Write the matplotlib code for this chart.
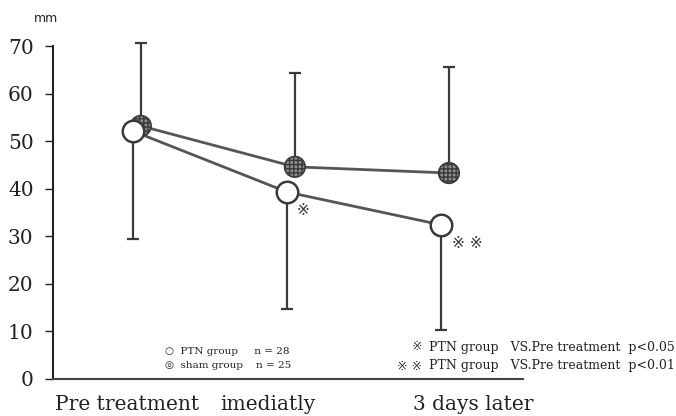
import matplotlib
matplotlib.use("Agg")
import matplotlib.pyplot as plt

# values (mm)
stages = ["Pre treatment", "imediatly", "3 days later"]
ptn_mean = [52.1, 39.3, 32.4]
ptn_sd_low = [22.7, 24.6, 22.1]
sham_mean = [53.2, 44.6, 43.3]
sham_sd_up = [17.4, 19.7, 22.3]
yticks = [0, 10, 20, 30, 40, 50, 60, 70]

serif = ["DejaVu Serif", "DejaVu Sans"]
ink = "#3a3a3a"

fig = plt.figure(figsize=(6.76, 4.16), dpi=100)
ax = fig.add_axes([53 / 676, 1 - 379 / 416, 470 / 676, 333 / 416])

x = list(range(len(stages)))
x_ptn = [v - 0.025 for v in x]
x_sham = [v + 0.025 for v in x]

# sham: error bar upward only, PTN: downward only
ax.errorbar(x_sham, sham_mean, yerr=[[0] * 3, sham_sd_up], fmt="none",
            ecolor=ink, elinewidth=1.6, capsize=4, capthick=1.6, clip_on=False, zorder=1)
ax.errorbar(x_ptn, ptn_mean, yerr=[ptn_sd_low, [0] * 3], fmt="none",
            ecolor=ink, elinewidth=1.6, capsize=4, capthick=1.6, clip_on=False, zorder=1)

ax.plot(x_sham, sham_mean, color="#555555", lw=2, zorder=2)
ax.plot(x_ptn, ptn_mean, color="#555555", lw=2, zorder=2)
ax.scatter(x_sham, sham_mean, s=220, facecolor="#8c8c8c", edgecolor=ink,
           hatch="++++", linewidth=1.2, zorder=3, clip_on=False)
ax.scatter(x_ptn, ptn_mean, s=240, facecolor="white", edgecolor=ink,
           linewidth=1.8, zorder=4, clip_on=False)

# significance marks
ax.text(x_ptn[1] + 0.06, ptn_mean[1] - 4, "※", fontsize=11, color=ink,
        ha="left", va="center", family=serif)
ax.text(x_ptn[2] + 0.07, ptn_mean[2] - 4, "※ ※", fontsize=11, color=ink,
        ha="left", va="center", family=serif)

ax.set_xlim(-0.545, 2.506)
ax.set_ylim(0, 70)
ax.set_yticks(yticks)
ax.set_xticks([])
ax.tick_params(axis="y", direction="out", length=6, width=1, pad=8, labelsize=14.5, colors="#222222")
for lab in ax.get_yticklabels():
    lab.set_family(serif)
for s in ["top", "right"]:
    ax.spines[s].set_visible(False)
ax.spines["left"].set_linewidth(1.5)
ax.spines["bottom"].set_linewidth(1.5)
ax.spines["left"].set_color("#222222")
ax.spines["bottom"].set_color("#444444")

fig.text(46 / 676, 1 - 19 / 416, "mm", fontsize=9, ha="center", va="center", color="#222222")

# category labels under the axis
label_x = [127, 268, 473]
for lx, name in zip(label_x, stages):
    fig.text(lx / 676, 1 - 404 / 416, name, fontsize=14.5, ha="center", va="center",
             family=serif, color="#222222")

# group key, lower left
fig.text(165 / 676, 1 - 352 / 416, "○  PTN group     n = 28", fontsize=7.5,
         ha="left", va="center", family=serif, color="#222222")
fig.text(165 / 676, 1 - 366 / 416, "◎  sham group    n = 25", fontsize=7.5,
         ha="left", va="center", family=serif, color="#222222")

# significance key, lower right
fig.text(422 / 676, 1 - 347 / 416, "※", fontsize=9, ha="right", va="center",
         family=serif, color="#222222")
fig.text(422 / 676, 1 - 366 / 416, "※ ※", fontsize=9, ha="right", va="center",
         family=serif, color="#222222")
fig.text(675 / 676, 1 - 347 / 416, "PTN group   VS.Pre treatment  p<0.05", fontsize=9,
         ha="right", va="center", family=serif, color="#222222")
fig.text(675 / 676, 1 - 366 / 416, "PTN group   VS.Pre treatment  p<0.01", fontsize=9,
         ha="right", va="center", family=serif, color="#222222")

fig.savefig("out.png", dpi=100)
